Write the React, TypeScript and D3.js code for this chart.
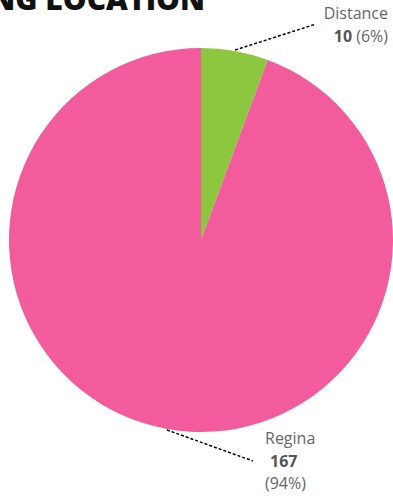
import React from 'react';
import * as d3 from 'd3';

const categories = ['Distance', 'Regina'];
const values = [10, 167];
const percents = ['6%', '94%'];
const colors = ['#8dc63f', '#f25b9c'];
const title = 'TRAINING LOCATION';

const W = 393;
const H = 496;

export default function App() {
  const cx = 201;
  const cy = 240;
  const r = 192;

  const pie = d3.pie<number>().sort(null).value(d => d);
  const arcs = pie(values);
  const arc = d3.arc<d3.PieArcDatum<number>>().innerRadius(0).outerRadius(r);

  const edgePoint = (a: d3.PieArcDatum<number>, rad: number) => {
    const mid = (a.startAngle + a.endAngle) / 2;
    return [cx + rad * Math.sin(mid), cy - rad * Math.cos(mid)];
  };

  // label anchor points relative to the chart
  const labelEnds = [
    [316, 24],
    [253, 461],
  ];

  return (
    <svg width={W} height={H} style={{ position: 'absolute', left: 0, top: 0 }} fontFamily="'Open Sans', sans-serif">
      <rect width={W} height={H} fill="#fff" />
      <text x={205} y={10} textAnchor="end" fontSize={30} fontWeight={800} fill="#111">
        {title}
      </text>
      <g transform={`translate(${cx},${cy})`}>
        {arcs.map((a, i) => (
          <path key={categories[i]} d={arc(a) || ''} fill={colors[i]} />
        ))}
      </g>
      {arcs.map((a, i) => {
        const [x1, y1] = edgePoint(a, r + 1);
        const [x2, y2] = labelEnds[i];
        return (
          <line
            key={'l' + i}
            x1={x1}
            y1={y1}
            x2={x2}
            y2={y2}
            stroke="#000"
            strokeWidth={1.5}
            strokeDasharray="3,2"
          />
        );
      })}
      {/* Distance label */}
      <text x={388} y={19} textAnchor="end" fontSize={16} fill="#666">
        {categories[0]}
      </text>
      <text x={388} y={42} textAnchor="end" fontSize={16} fill="#666">
        <tspan fontWeight={700} fill="#555">{values[0]}</tspan>
        <tspan> ({percents[0]})</tspan>
      </text>
      {/* Regina label */}
      <text x={265} y={444} fontSize={16} fill="#666">
        {categories[1]}
      </text>
      <text x={270} y={467} fontSize={16} fontWeight={700} fill="#555">
        {values[1]}
      </text>
      <text x={265} y={489} fontSize={16} fill="#666">
        ({percents[1]})
      </text>
    </svg>
  );
}
